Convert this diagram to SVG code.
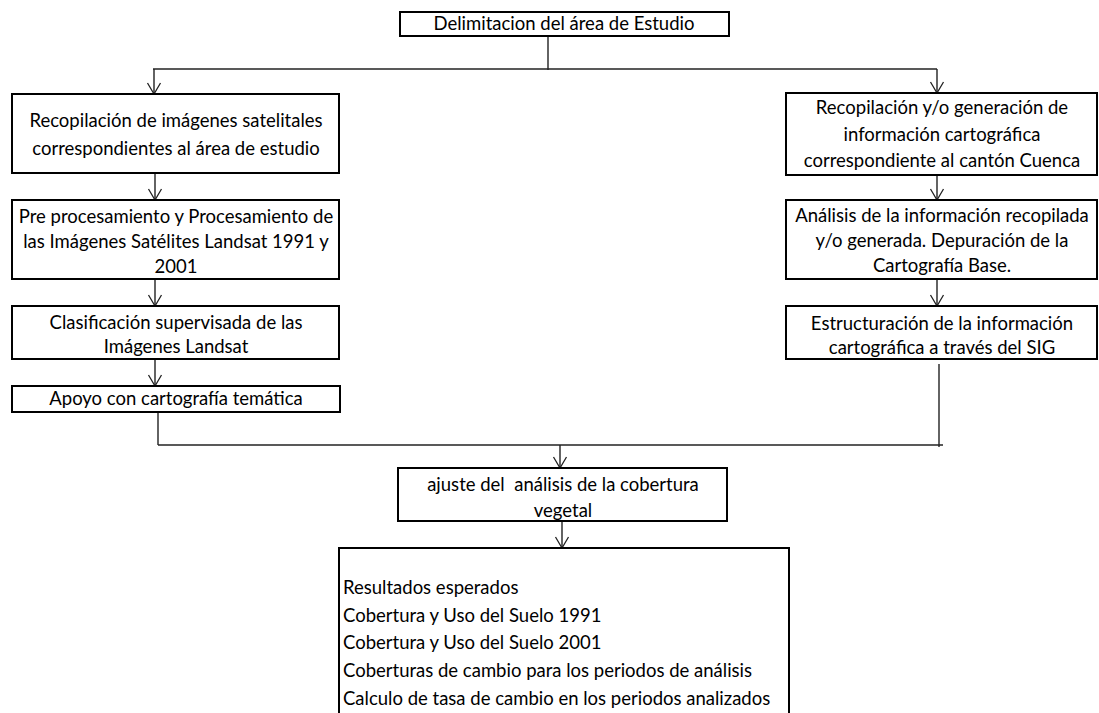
<svg xmlns="http://www.w3.org/2000/svg" width="1099" height="713" viewBox="0 0 1099 713">
<defs>
<style>
.box{fill:#fff;stroke:#000;stroke-width:2}
.t{font-family:Lato,"Liberation Sans",sans-serif;font-size:18.5px;fill:#000;text-anchor:middle}
.tl{font-family:Lato,"Liberation Sans",sans-serif;font-size:18.5px;fill:#000;text-anchor:start}
.c{fill:none;stroke:#222;stroke-width:1.4}
</style>
<marker id="arr" markerUnits="userSpaceOnUse" markerWidth="14" markerHeight="16" viewBox="-13 -8 14 16" refX="0" refY="0" orient="auto">
<path d="M-11,-6.5 L0,0 L-11,6.5" fill="none" stroke="#222" stroke-width="1.3"/>
</marker>
</defs>
<rect width="1099" height="713" fill="#fff"/>
<g id="connectors">
<line class="c" x1="548" y1="36" x2="548" y2="70"/>
<line class="c" x1="153" y1="69" x2="937" y2="69"/>
<line class="c" x1="154" y1="69" x2="154" y2="94" marker-end="url(#arr)"/>
<line class="c" x1="937" y1="69" x2="937" y2="93" marker-end="url(#arr)"/>
<line class="c" x1="155" y1="173" x2="155" y2="200" marker-end="url(#arr)"/>
<line class="c" x1="155" y1="279" x2="155" y2="306" marker-end="url(#arr)"/>
<line class="c" x1="155" y1="359" x2="155" y2="386" marker-end="url(#arr)"/>
<line class="c" x1="937" y1="175" x2="937" y2="200" marker-end="url(#arr)"/>
<line class="c" x1="937" y1="279" x2="937" y2="306" marker-end="url(#arr)"/>
<line class="c" x1="158" y1="412" x2="158" y2="445"/>
<line class="c" x1="939" y1="364" x2="939" y2="447"/>
<line class="c" x1="158" y1="445" x2="943" y2="445"/>
<line class="c" x1="560" y1="445" x2="560" y2="468" marker-end="url(#arr)"/>
<line class="c" x1="562" y1="521" x2="562" y2="548" marker-end="url(#arr)"/>
</g>
<g id="n-delimitacion">
<rect class="box" x="400" y="12" width="329" height="24"/>
<text class="t" x="564" y="30">Delimitacion del área de Estudio</text>
</g>
<g id="n-recopilacion-imagenes">
<rect class="box" x="12" y="94" width="327" height="79"/>
<text class="t" x="176" y="127">Recopilación de imágenes satelitales</text>
<text class="t" x="176" y="155">correspondientes al área de estudio</text>
</g>
<g id="n-preprocesamiento">
<rect class="box" x="12" y="200" width="327" height="79"/>
<text class="t" x="176" y="223">Pre procesamiento y Procesamiento de</text>
<text class="t" x="176" y="248">las Imágenes Satélites Landsat 1991 y</text>
<text class="t" x="176" y="273">2001</text>
</g>
<g id="n-clasificacion">
<rect class="box" x="12" y="306" width="327" height="53"/>
<text class="t" x="176" y="329">Clasificación supervisada de las</text>
<text class="t" x="176" y="353">Imágenes Landsat</text>
</g>
<g id="n-apoyo">
<rect class="box" x="12" y="386" width="328" height="26"/>
<text class="t" x="176" y="405">Apoyo con cartografía temática</text>
</g>
<g id="n-recopilacion-cartografica">
<rect class="box" x="786" y="93" width="311" height="82"/>
<text class="t" x="942" y="114">Recopilación y/o generación de</text>
<text class="t" x="942" y="141">información cartográfica</text>
<text class="t" x="942" y="167">correspondiente al cantón Cuenca</text>
</g>
<g id="n-analisis">
<rect class="box" x="786" y="200" width="311" height="79"/>
<text class="t" x="942" y="222">Análisis de la información recopilada</text>
<text class="t" x="942" y="247">y/o generada. Depuración de la</text>
<text class="t" x="942" y="272">Cartografía Base.</text>
</g>
<g id="n-estructuracion">
<rect class="box" x="786" y="306" width="311" height="53"/>
<text class="t" x="942" y="330">Estructuración de la información</text>
<text class="t" x="942" y="354">cartográfica a través del SIG</text>
</g>
<g id="n-ajuste">
<rect class="box" x="398" y="468" width="329" height="53"/>
<text class="t" x="563" y="491" xml:space="preserve">ajuste del  análisis de la cobertura</text>
<text class="t" x="563" y="517">vegetal</text>
</g>
<g id="n-resultados">
<rect class="box" x="339" y="548" width="450" height="180"/>
<text class="tl" x="343" y="594">Resultados esperados</text>
<text class="tl" x="343" y="622">Cobertura y Uso del Suelo 1991</text>
<text class="tl" x="343" y="649">Cobertura y Uso del Suelo 2001</text>
<text class="tl" x="343" y="677">Coberturas de cambio para los periodos de análisis</text>
<text class="tl" x="343" y="705">Calculo de tasa de cambio en los periodos analizados</text>
</g>
</svg>
